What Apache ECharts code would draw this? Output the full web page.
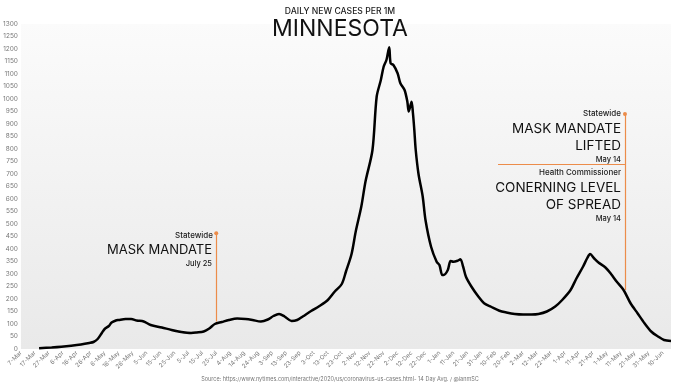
<!DOCTYPE html>
<html><head><meta charset="utf-8">
<script src="https://cdn.jsdelivr.net/npm/echarts@6/dist/echarts.min.js"></script>
<style>html,body{margin:0;padding:0;background:#fff}#c{width:680px;height:384px}</style>
</head><body><div id="c"></div>
<script>
// x tick labels, one every 10 days starting 7-Mar-2020
var tickLabels = ['7-Mar','17-Mar','27-Mar','6-Apr','16-Apr','26-Apr','6-May','16-May','26-May','5-Jun','15-Jun','25-Jun','5-Jul','15-Jul','25-Jul','4-Aug','14-Aug','24-Aug','3-Sep','13-Sep','23-Sep','3-Oct','13-Oct','23-Oct','2-Nov','12-Nov','22-Nov','2-Dec','12-Dec','22-Dec','1-Jan','11-Jan','21-Jan','31-Jan','10-Feb','20-Feb','2-Mar','12-Mar','22-Mar','1-Apr','11-Apr','21-Apr','1-May','11-May','21-May','31-May','10-Jun'];
// days since 7-Mar-2020
var dayIndex = [13,22,29,36,43,49,52,55,58,60,63,65,68,70,75,79,83,88,93,101,108,115,122,126,131,135,139,144,149,155,161,166,172,177,181,185,189,194,198,202,208,214,220,225,230,233,237,240,244,247,252,255,258,260,262,264,265,267,270,272,275,277,278,280,281,282,283,285,288,290,294,298,300,302,303,306,308,310,313,315,317,319,323,328,332,337,343,348,354,360,366,371,377,383,388,394,398,403,406,408,411,414,419,423,427,432,437,442,447,452,457,461,466];
// 14-day average daily new cases per 1M
var cases14 = [3,6,9,13,18,24,28,40,64,80,92,106,114,116,120,120,114,110,96,86,76,68,64,66,70,82,100,108,116,122,120,116,110,118,132,140,130,112,116,130,152,172,196,230,260,310,380,470,570,670,796,1009,1076,1129,1156,1207,1143,1136,1103,1063,1036,989,950,989,944,876,796,700,610,516,409,349,336,296,296,316,352,349,353,359,329,289,249,209,183,169,153,146,140,138,138,140,150,170,196,236,280,330,364,380,362,346,326,300,270,236,183,143,103,69,49,36,32];
// annotation events
var events = [
  {day: 140, top: 463, bottom: 110},
  {day: 433, top: 940, bottom: 236}
];
var hLine = {fromDay: 342, toDay: 433, value: 740};

var orange = '#ec8c4a';
var font = 'Inter, Lato, sans-serif';
var chart = echarts.init(document.getElementById('c'), null, {renderer: 'canvas'});
var lineData = dayIndex.map(function (d, i) { return [d, cases14[i]]; });

chart.setOption({
  animation: false,
  backgroundColor: '#fff',
  grid: {left: 20, right: 9, top: 24, bottom: 35, show: true, borderWidth: 0,
    backgroundColor: {type: 'linear', x: 0, y: 0, x2: 0, y2: 1,
      colorStops: [{offset: 0, color: '#fbfbfb'}, {offset: 1, color: '#e9e9e9'}]}},
  xAxis: {
    type: 'value', min: 0, max: 466, interval: 10,
    axisLine: {show: false}, axisTick: {show: false}, splitLine: {show: false},
    axisLabel: {rotate: 45, fontSize: 6, color: '#777', fontFamily: font, margin: 3, showMaxLabel: false,
      formatter: function (v) { return tickLabels[Math.round(v / 10)] || ''; }}
  },
  yAxis: {
    type: 'value', min: 0, max: 1300, interval: 50,
    axisLine: {show: false}, axisTick: {show: false}, splitLine: {show: false},
    axisLabel: {fontSize: 6.5, color: '#777', fontFamily: font, margin: 3,
      formatter: function (v) { return String(v); }}
  },
  series: [{
    type: 'line', data: lineData, showSymbol: false, smooth: 0.3,
    lineStyle: {color: '#000', width: 2.5},
    markLine: {
      silent: true, symbol: ['none', 'circle'], symbolSize: 4,
      lineStyle: {color: orange, width: 1.2, type: 'solid'}, label: {show: false},
      itemStyle: {color: orange},
      data: events.map(function (e) { return [{coord: [e.day, e.bottom]}, {coord: [e.day, e.top]}]; })
        .concat([[{coord: [hLine.fromDay, hLine.value], symbol: 'none'}, {coord: [hLine.toDay, hLine.value], symbol: 'none'}]])
    }
  }],
  graphic: [
    {type: 'text', left: 'center', top: 7, style: {text: 'DAILY NEW CASES PER 1M', font: '500 8.6px ' + font, fill: '#222'}},
    {type: 'text', left: 'center', top: 18, style: {text: 'MINNESOTA', font: '400 23px ' + font, fill: '#111'}},
    {type: 'text', x: 213, y: 236, style: {text: 'Statewide', font: '500 8px ' + font, fill: '#222', align: 'right', verticalAlign: 'middle'}},
    {type: 'text', x: 212, y: 250, style: {text: 'MASK MANDATE', font: '400 13px ' + font, fill: '#111', align: 'right', verticalAlign: 'middle'}},
    {type: 'text', x: 212, y: 264, style: {text: 'July 25', font: '500 7.5px ' + font, fill: '#222', align: 'right', verticalAlign: 'middle'}},
    {type: 'text', x: 621, y: 114, style: {text: 'Statewide', font: '500 8px ' + font, fill: '#222', align: 'right', verticalAlign: 'middle'}},
    {type: 'text', x: 621, y: 129, style: {text: 'MASK MANDATE', font: '400 13.5px ' + font, fill: '#111', align: 'right', verticalAlign: 'middle'}},
    {type: 'text', x: 621, y: 146, style: {text: 'LIFTED', font: '400 13.5px ' + font, fill: '#111', align: 'right', verticalAlign: 'middle'}},
    {type: 'text', x: 621, y: 160, style: {text: 'May 14', font: '500 7.5px ' + font, fill: '#222', align: 'right', verticalAlign: 'middle'}},
    {type: 'text', x: 621, y: 173, style: {text: 'Health Commissioner', font: '500 8px ' + font, fill: '#222', align: 'right', verticalAlign: 'middle'}},
    {type: 'text', x: 621, y: 188, style: {text: 'CONERNING LEVEL', font: '400 13.5px ' + font, fill: '#111', align: 'right', verticalAlign: 'middle'}},
    {type: 'text', x: 621, y: 205, style: {text: 'OF SPREAD', font: '400 13.5px ' + font, fill: '#111', align: 'right', verticalAlign: 'middle'}},
    {type: 'text', x: 621, y: 219, style: {text: 'May 14', font: '500 7.5px ' + font, fill: '#222', align: 'right', verticalAlign: 'middle'}},
    {type: 'text', left: 'center', top: 376, style: {text: 'Source: https://www.nytimes.com/interactive/2020/us/coronavirus-us-cases.html- 14 Day Avg. / @ianmSC', font: '400 5.5px ' + font, fill: '#777'}}
  ]
});
</script></body></html>
